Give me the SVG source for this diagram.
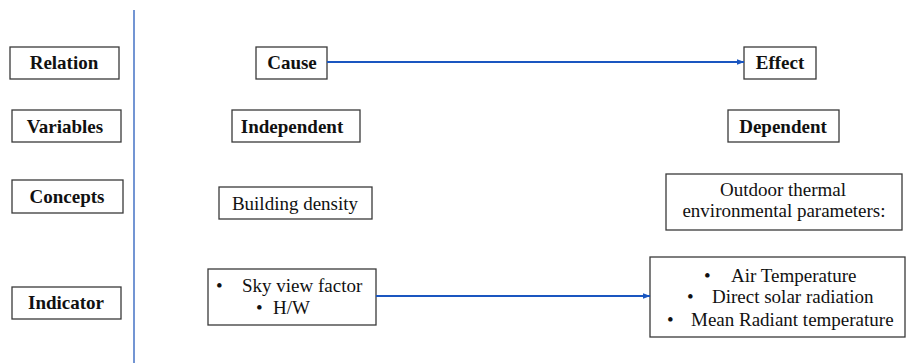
<svg xmlns="http://www.w3.org/2000/svg" width="906" height="363" viewBox="0 0 906 363">
<defs>
<marker id="ah" markerWidth="8" markerHeight="6" refX="7.5" refY="3" orient="auto" markerUnits="userSpaceOnUse">
<path d="M0,0 L8,3 L0,6 Z" fill="#1a56c0"/>
</marker>
<style>
.box{fill:#fff;stroke:#3a3a3a;stroke-width:1.3}
text{font-family:'Liberation Serif','DejaVu Serif',serif;font-size:19px;fill:#111}
.b{font-weight:bold;text-anchor:middle}
.r{text-anchor:middle}
.conn{stroke:#1a56c0;stroke-width:2;fill:none}
</style>
</defs>
<rect width="906" height="363" fill="#fff"/>
<line x1="134" y1="10" x2="134" y2="363" stroke="#4472c4" stroke-width="1.5"/>
<g id="relation"><rect class="box" x="10" y="47" width="109" height="32"/><text class="b" x="64" y="69">Relation</text></g>
<g id="variables"><rect class="box" x="12" y="110" width="109" height="32"/><text class="b" x="65" y="133">Variables</text></g>
<g id="concepts"><rect class="box" x="12" y="180" width="111" height="33"/><text class="b" x="67" y="203">Concepts</text></g>
<g id="indicator"><rect class="box" x="12" y="287" width="109" height="32"/><text class="b" x="66" y="309">Indicator</text></g>
<g id="cause"><rect class="box" x="256" y="47" width="71" height="32"/><text class="b" x="292" y="69">Cause</text></g>
<g id="effect"><rect class="box" x="744" y="47" width="72" height="32"/><text class="b" x="780" y="69">Effect</text></g>
<g id="independent"><rect class="box" x="232" y="110" width="128" height="32"/><text class="b" x="292" y="133">Independent</text></g>
<g id="dependent"><rect class="box" x="728" y="110" width="111" height="32"/><text class="b" x="783" y="133">Dependent</text></g>
<g id="building-density"><rect class="box" x="219" y="187" width="153" height="32"/><text class="r" x="295" y="210">Building density</text></g>
<g id="outdoor"><rect class="box" x="666" y="174" width="236" height="56"/><text class="r" x="783" y="196">Outdoor thermal</text><text class="r" x="784" y="217">environmental parameters:</text></g>
<g id="sky-view"><rect class="box" x="208" y="269" width="168" height="56"/>
<text x="216" y="292">•</text><text x="242" y="292">Sky view factor</text>
<text x="256" y="314">•</text><text x="273" y="314">H/W</text></g>
<g id="thermal-params"><rect class="box" x="650" y="257" width="255" height="80"/>
<text x="704" y="282">•</text><text x="731" y="282">Air Temperature</text>
<text x="687" y="303">•</text><text x="712" y="303">Direct solar radiation</text>
<text x="667" y="326">•</text><text x="691" y="326">Mean Radiant temperature</text></g>
<g id="connectors">
<line class="conn" x1="327" y1="62" x2="744" y2="62" marker-end="url(#ah)"/>
<line class="conn" x1="376" y1="296" x2="650" y2="296" marker-end="url(#ah)"/>
</g>
</svg>
